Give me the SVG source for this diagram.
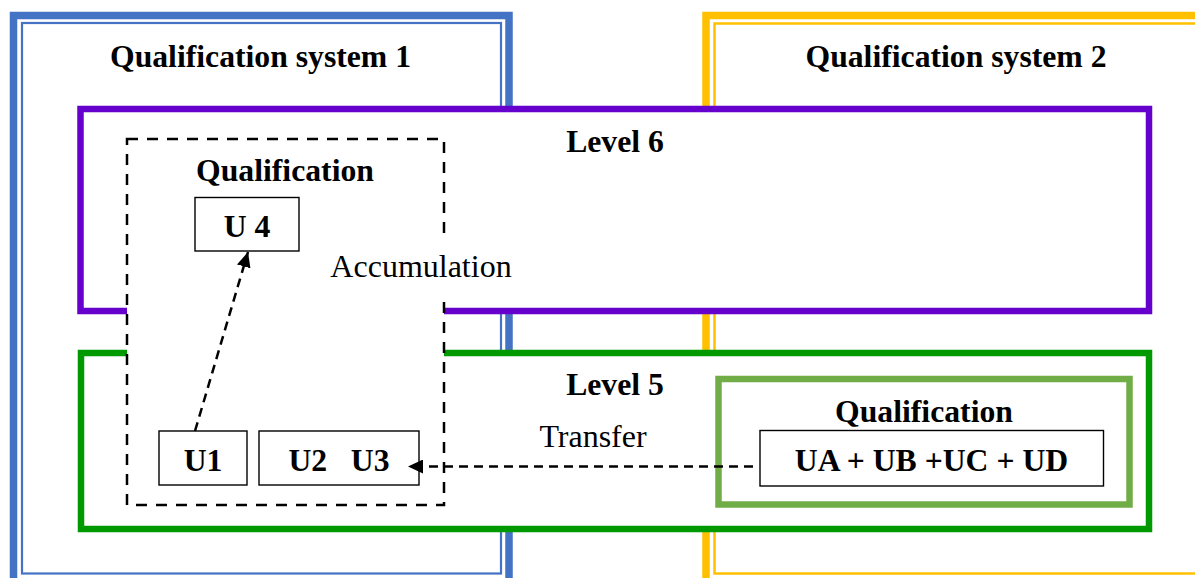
<svg xmlns="http://www.w3.org/2000/svg" width="1195" height="578" viewBox="0 0 1195 578">
<style>
.b{font-family:"Liberation Serif","Times New Roman",serif;font-weight:bold;font-size:31.7px;fill:#000;text-anchor:middle}
.r{font-family:"Liberation Serif","Times New Roman",serif;font-size:32px;fill:#000;text-anchor:middle}
.unit{fill:#fff;stroke:#000;stroke-width:1.4}
.dash{fill:none;stroke:#000;stroke-width:2.5;stroke-dasharray:9 6}
</style>
<defs>
<marker id="ah" markerUnits="userSpaceOnUse" markerWidth="16" markerHeight="14" refX="15" refY="7" orient="auto">
<path d="M0,0 L15,7 L0,14 Z" fill="#000"/>
</marker>
</defs>
<rect width="1195" height="578" fill="#fff"/>
<g id="qs1">
<rect x="13.5" y="15.5" width="495.5" height="580" fill="none" stroke="#4472C4" stroke-width="7.5"/>
<rect x="22" y="23" width="479" height="550.5" fill="none" stroke="#4472C4" stroke-width="2.2"/>
<text class="b" x="260.5" y="67">Qualification system 1</text>
</g>
<g id="qs2">
<rect x="706" y="15.5" width="520" height="580" fill="none" stroke="#FFC000" stroke-width="7.5"/>
<rect x="714.5" y="23.5" width="510" height="550" fill="none" stroke="#FFC000" stroke-width="2.5"/>
<text class="b" x="956" y="67">Qualification system 2</text>
</g>
<g id="level6">
<rect x="80.5" y="109" width="1068.5" height="202" fill="#fff" stroke="#6600CC" stroke-width="6.5"/>
<text class="b" x="615" y="152">Level 6</text>
</g>
<g id="level5">
<rect x="81" y="353" width="1068" height="176" fill="#fff" stroke="#009900" stroke-width="6.5"/>
<text class="b" x="615" y="395">Level 5</text>
</g>
<g id="qualification2">
<rect x="718.5" y="379" width="411" height="125.5" fill="#fff" stroke="#70AD47" stroke-width="6.5"/>
<text class="b" x="924" y="422">Qualification</text>
<rect class="unit" x="760" y="430.5" width="343.5" height="55.5"/>
<text class="b" x="931.5" y="471">UA + UB +UC + UD</text>
</g>
<g id="qualification1">
<rect x="127" y="139" width="317" height="366" fill="#fff" stroke="#000" stroke-width="2.5" stroke-dasharray="11 9"/>
<text class="b" x="285" y="181">Qualification</text>
</g>
<g id="accumulation-label">
<rect x="322" y="239" width="200" height="58" fill="#fff"/>
<text class="r" x="421" y="277">Accumulation</text>
</g>
<g id="u4">
<rect class="unit" x="195" y="197.5" width="104" height="53.5"/>
<text class="b" x="247" y="237">U 4</text>
</g>
<g id="u1">
<rect class="unit" x="159" y="431" width="88" height="54"/>
<text class="b" x="203" y="471">U1</text>
</g>
<g id="u2u3">
<rect class="unit" x="259" y="431" width="160" height="54"/>
<text class="b" x="339" y="471" xml:space="preserve">U2   U3</text>
</g>
<g id="connectors">
<line class="dash" x1="195" y1="431" x2="248" y2="252" marker-end="url(#ah)"/>
<line class="dash" x1="753" y1="466.5" x2="408" y2="466.5" marker-end="url(#ah)"/>
<text class="r" x="593" y="447">Transfer</text>
</g>
</svg>
